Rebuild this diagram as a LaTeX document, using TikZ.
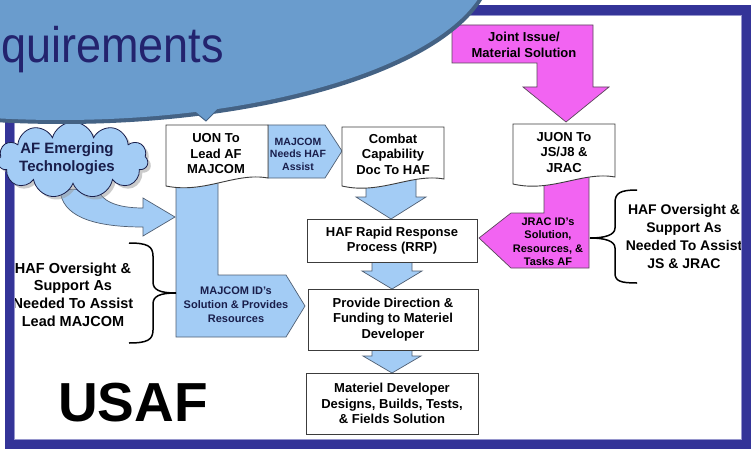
\documentclass[tikz,border=0pt]{standalone}
\usepackage{fontspec}
\setmainfont{Liberation Sans}
\newfontfamily\narrowfont[FakeStretch=0.9]{Liberation Sans}
\usetikzlibrary{shapes.symbols, shadows, positioning}
\definecolor{frameblue}{RGB}{52,52,152}
\definecolor{framelight}{RGB}{150,150,205}
\definecolor{lightblue}{RGB}{163,204,245}
\definecolor{blueline}{RGB}{80,95,115}
\definecolor{calloutblue}{RGB}{106,156,205}
\definecolor{calloutedge}{RGB}{68,98,132}
\definecolor{titlenavy}{RGB}{35,35,110}
\definecolor{textnavy}{RGB}{25,30,75}
\definecolor{jointpink}{RGB}{242,100,242}
\definecolor{pinkline}{RGB}{90,70,90}
\definecolor{boxline}{RGB}{60,60,60}

\begin{document}
\begin{tikzpicture}[x=1pt, y=-1pt]
		\tikzstyle{Box} = [rectangle, draw=boxline, fill=white, line width=0.9pt, align=center, inner sep=0pt, font=\bfseries\fontsize{13}{15.5}\selectfont]
		\tikzstyle{Label} = [align=center, inner sep=0pt, font=\bfseries\fontsize{13}{15.5}\selectfont]
		\tikzstyle{Small} = [align=center, inner sep=0pt, text=textnavy, font=\bfseries\fontsize{10.5}{12.5}\selectfont]
		\tikzstyle{Note} = [align=center, inner sep=0pt, font=\bfseries\fontsize{14.5}{17.7}\selectfont]
		\tikzstyle{blueshape} = [fill=lightblue, draw=blueline, line width=0.7pt]
		\tikzstyle{pinkshape} = [fill=jointpink, draw=pinkline, line width=0.7pt]
		\tikzstyle{doc} = [fill=white, draw=boxline, line width=0.9pt]
		\tikzstyle{brace} = [line width=1.5pt, black]
		
		\useasboundingbox (0,0) rectangle (751,449);
		\clip (0,0) rectangle (751,449);
		\fill [white] (0,0) rectangle (751,449);
		
		\draw [blueshape] (176,180) -- (218,180) -- (218,275) -- (286,275) -- (305,306) -- (286,337) -- (176,337) -- cycle;
		\node (majid) [Small, font=\bfseries\fontsize{11}{14}\selectfont] at (236,305) {MAJCOM ID's\\Solution \& Provides\\Resources};
		
		\draw [blueshape] (268,125) -- (325,125) -- (342,151) -- (325,178) -- (268,178) -- cycle;
		\node (needs) [Small] at (298,154) {MAJCOM\\Needs HAF\\Assist};
		
		\draw [doc] (166,125) -- (268,125) -- (268,178) .. controls (235,172) and (205,194) .. (166,186) -- cycle;
		\node (uon) [Label] at (216,154) {UON To\\Lead AF\\MAJCOM};
		
		\draw [blueshape] (366,178) -- (416,178) -- (416,197) -- (426,197) -- (391,219) -- (356,197) -- (366,197) -- cycle;
		\draw [doc] (342,127) -- (444,127) -- (444,179) .. controls (412,173) and (380,195) .. (342,186) -- cycle;
		\node (combat) [Label] at (393,154) {Combat\\Capability\\Doc To HAF};
		
		\draw [blueshape] (372,262) -- (412,262) -- (412,271) -- (422,271) -- (392,289) -- (362,271) -- (372,271) -- cycle;
		\draw [blueshape] (372,350) -- (412,350) -- (412,356) -- (421,356) -- (392,373) -- (363,356) -- (372,356) -- cycle;
		
		\node (rrp) [Box, minimum width=170pt, minimum height=43pt] at (392,240.5) {HAF Rapid Response\\Process (RRP)};
		\node (provide) [Box, minimum width=170pt, minimum height=61pt] at (393,319.5) {Provide Direction \&\\Funding to Materiel\\Developer};
		\node (materiel) [Box, minimum width=172pt, minimum height=61pt] at (392,403.5) {Materiel Developer\\Designs, Builds, Tests,\\\& Fields Solution};
		
		\draw [pinkshape] (452,25) -- (593,25) -- (593,87) -- (609,87) -- (566,122) -- (523,87) -- (537,87) -- (537,63) -- (452,63) -- cycle;
		\node (joint) [Label, text=black] at (524,45) {Joint Issue/\\Material Solution};
		
		\draw [pinkshape] (589,175) -- (589,268) -- (511,268) -- (479,238) -- (511,213) -- (544,213) -- (544,175) -- cycle;
		\node (jrac) [Small, text=black, font=\bfseries\fontsize{11}{13.5}\selectfont] at (548,241.5) {JRAC ID's\\Solution,\\Resources, \&\\Tasks AF};
		
		\draw [doc] (513,124) -- (615,124) -- (615,177) .. controls (583,171) and (551,193) .. (513,184) -- cycle;
		\node (juon) [Label] at (564,152.5) {JUON To\\JS/J8 \&\\JRAC};
		
		\draw [brace] (129,243) .. controls (147,243) and (153,246) .. (153,256) -- (153,282) .. controls (153,290) and (160,293) .. (176,293) .. controls (160,293) and (153,296) .. (153,304) -- (153,330) .. controls (153,340) and (147,343) .. (129,343);
		\node (leftnote) [Note] at (73,294.5) {HAF Oversight \&\\Support As\\Needed To Assist\\Lead MAJCOM};
		
		\draw [brace] (637,190) .. controls (620,190) and (615,193) .. (615,203) -- (615,228) .. controls (615,235) and (605,238) .. (590,238) .. controls (605,238) and (615,241) .. (615,248) -- (615,273) .. controls (615,281) and (620,283) .. (637,283);
		\node (rightnote) [Note, font=\bfseries\fontsize{14}{17.7}\selectfont] at (684,236.5) {HAF Oversight \&\\Support As\\Needed To Assist\\JS \& JRAC};
		
		\node (usaf) [inner sep=0pt, font=\bfseries\fontsize{55}{60}\selectfont] at (133,403) {USAF};
		
		\draw [frameblue, line width=9.5pt] (9.5,10) rectangle (746.5,444.5);
		\draw [framelight, line width=0.8pt] (14.5,15.5) rectangle (741.5,439.5);
		
		\draw [blueshape] (60,190) .. controls (62,215) and (90,227) .. (143,227) -- (143,236) -- (175,217) -- (143,198) -- (143,208) .. controls (115,208) and (100,200) .. (98,188) -- cycle;
		\node (cloud) [cloud, cloud puffs=11, aspect=2.1, minimum width=150pt, minimum height=76pt, fill=lightblue, draw=textnavy, line width=0.8pt, drop shadow={shadow xshift=3pt, shadow yshift=-3pt, fill=black!40}] at (73,160) {};
		\node (tech) [Note, text=textnavy, font=\bfseries\fontsize{15}{17.5}\selectfont] at (67,158.5) {AF Emerging\\Technologies};
		
		\fill [calloutedge] (62,-36) ellipse [x radius=431, y radius=160];
		\filldraw [fill=calloutblue, draw=calloutedge, line width=1pt] (190,108) -- (206,121) -- (221,106);
		\fill [calloutblue] (60,-40) ellipse [x radius=431, y radius=160];
		\node (title) [anchor=base west, inner sep=0pt, text=titlenavy, font=\narrowfont\fontsize{50}{57}\selectfont] at (1,63) {quirements};
\end{tikzpicture}
\end{document}
